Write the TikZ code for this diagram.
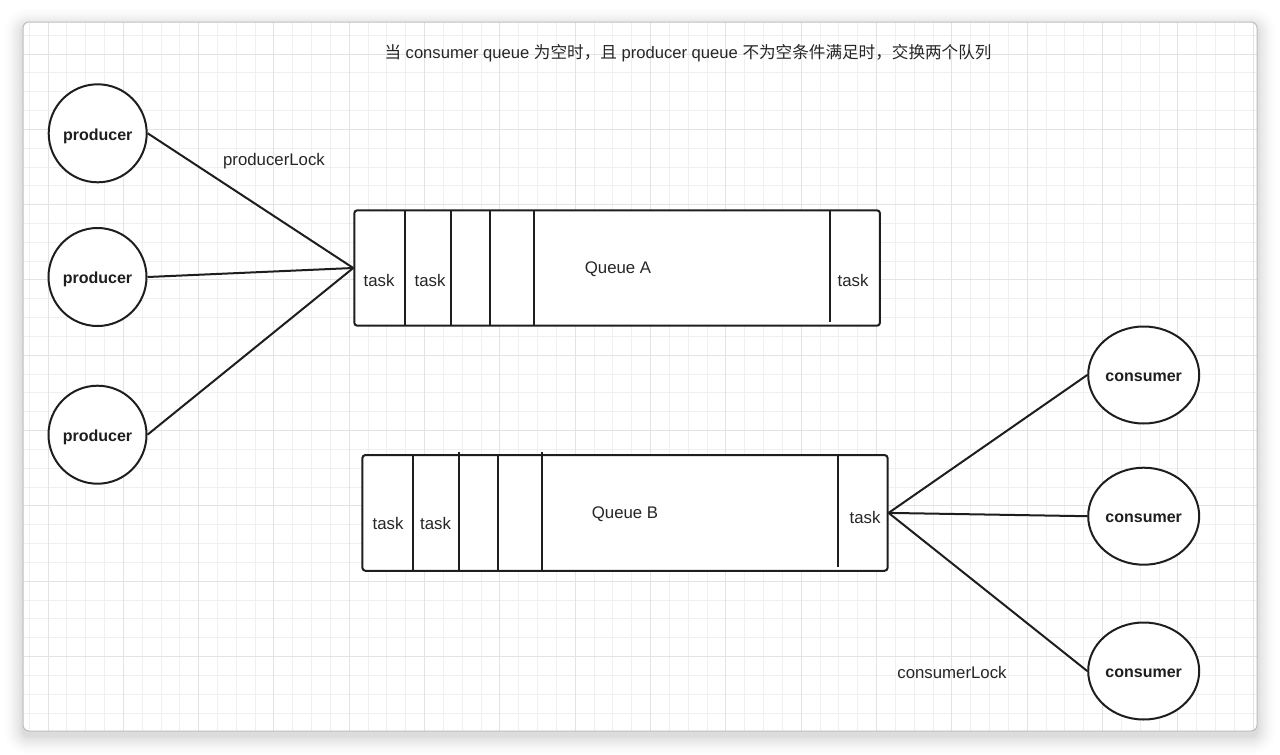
\documentclass[tikz,border=0pt]{standalone}
\usepackage{fontspec}
\setmainfont{Liberation Sans}
\newfontfamily\cjk{Noto Sans CJK SC}
\newcommand{\zh}[1]{{\cjk #1}}
\usetikzlibrary{shapes.geometric}
\definecolor{ink}{HTML}{1E1E1E}
\definecolor{txt}{HTML}{262626}
\definecolor{gminor}{HTML}{F0F0F0}
\definecolor{gmajor}{HTML}{E3E3E3}
\definecolor{frame}{HTML}{BDBDBD}
\tikzset{
  shape line/.style={draw=ink, line width=2pt},
  prod/.style={shape line, circle, minimum size=98pt, inner sep=0pt, fill=white,
    text height=14pt, text depth=0.5pt,
    font=\fontsize{16}{19}\selectfont\bfseries, text=ink},
  cons/.style={shape line, ellipse, minimum width=111pt, minimum height=97pt, inner sep=0pt, fill=white,
    text height=14pt, text depth=0.5pt,
    font=\fontsize{16}{19}\selectfont\bfseries, text=ink},
  queue/.style={shape line, rectangle, rounded corners=3pt, fill=white, inner sep=0pt},
  divider/.style={draw=ink, line width=2pt},
  conn/.style={draw=ink, line width=2pt},
  lbl/.style={font=\fontsize{16.8}{20}\selectfont, text=txt, inner sep=0pt},
  minorline/.style={draw=gminor, line width=1pt},
  majorline/.style={draw=gmajor, line width=1pt},
}
\begin{document}
\begin{tikzpicture}[x=1pt,y=-1pt]
\useasboundingbox (0,0) rectangle (1280,755);
\fill[white] (0,0) rectangle (1280,755);
% shadow
\foreach \i in {1,...,22}{
  \pgfmathsetmacro\op{0.0125*(1-\i/23)}
  \fill[black, opacity=\op, rounded corners=6+\i] (23-\i,27-\i) rectangle (1257+\i,736+\i);
}
% window
\fill[white, rounded corners=6] (23,22) rectangle (1257,731);
\begin{scope}
  \clip[rounded corners=6] (23,22) rectangle (1257,731);
  \foreach \n in {0,...,65}{
    \pgfmathsetmacro\xx{29.2+18.83*\n}
    \draw[minorline] (\xx,22) -- (\xx,731);
  }
  \foreach \m in {0,...,36}{
    \pgfmathsetmacro\yy{35.2+18.83*\m}
    \draw[minorline] (23,\yy) -- (1257,\yy);
  }
  \foreach \n in {0,...,16}{
    \pgfmathsetmacro\xx{48+75.33*\n}
    \draw[majorline] (\xx,22) -- (\xx,731);
  }
  \foreach \m in {0,...,8}{
    \pgfmathsetmacro\yy{54+75.33*\m}
    \draw[majorline] (23,\yy) -- (1257,\yy);
  }
\end{scope}
\draw[frame, line width=1pt, rounded corners=6] (23,22) rectangle (1257,731);

% title
\node[lbl, font=\fontsize{16.6}{20}\selectfont] (title) at (688,53)
  {\zh{当} consumer queue \zh{为空时，且} producer queue \zh{不为空条件满足时，交换两个队列}};

% queues
\node[queue, minimum width=525.7pt, minimum height=115.4pt] (qa) at (617.1,268) {};
\node[queue, minimum width=525.2pt, minimum height=115.7pt] (qb) at (625,512.9) {};

% dividers of queue A
\draw[divider] (405,210.3) -- (405,325.7);
\draw[divider] (451,210.3) -- (451,325.7);
\draw[divider] (490,210.3) -- (490,325.7);
\draw[divider] (534,210.3) -- (534,325.7);
\draw[divider] (830,210.3) -- (830,322);
% dividers of queue B
\draw[divider] (413,455) -- (413,570.7);
\draw[divider] (458.6,452) -- (458.6,570.7);
\draw[divider] (497.5,455) -- (497.5,570.7);
\draw[divider] (541.8,452) -- (541.8,570.7);
\draw[divider] (838,455) -- (838,567);

% queue texts
\node[lbl] (ta1) at (379,280) {task};
\node[lbl] (ta2) at (430,280) {task};
\node[lbl] (qaname) at (618,269) {Queue A};
\node[lbl] (ta3) at (853,280) {task};
\node[lbl] (tb1) at (388,523) {task};
\node[lbl] (tb2) at (435.5,523) {task};
\node[lbl] (qbname) at (625,514) {Queue B};
\node[lbl] (tb3) at (865,517) {task};

% producers and consumers
\node[prod] (p1) at (97.7,133.3) {producer};
\node[prod] (p2) at (97.5,277) {producer};
\node[prod] (p3) at (97.5,434.7) {producer};
\node[cons] (c1) at (1143.7,375) {consumer};
\node[cons] (c2) at (1143.7,516.2) {consumer};
\node[cons] (c3) at (1143.7,671) {consumer};

% connectors
\draw[conn] (p1.east) -- (qa.west);
\draw[conn] (p2.east) -- (qa.west);
\draw[conn] (p3.east) -- (qa.west);
\draw[conn] (qb.east) -- (c1.west);
\draw[conn] (qb.east) -- (c2.west);
\draw[conn] (qb.east) -- (c3.west);

% lock labels
\node[lbl] (plock) at (274,161) {producerLock};
\node[lbl] (clock) at (952,672) {consumerLock};
\end{tikzpicture}
\end{document}
